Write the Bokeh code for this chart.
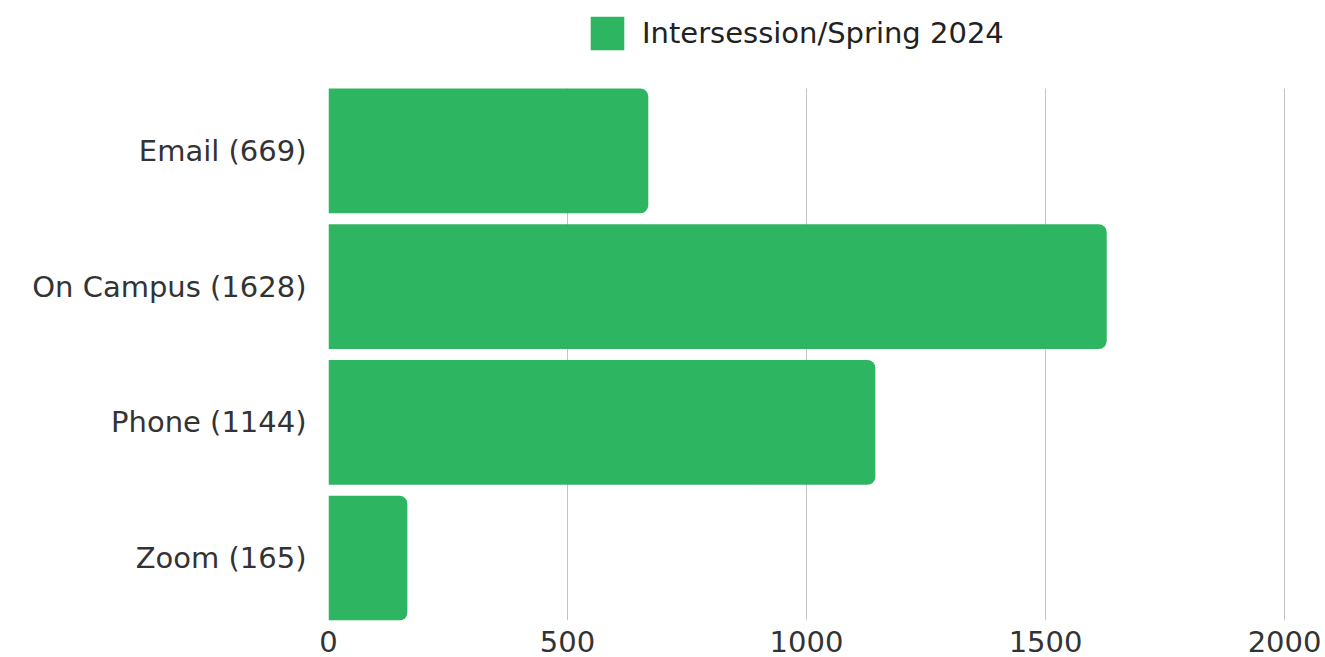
from bokeh.plotting import figure
from bokeh.models import Range1d, FixedTicker, Legend, LegendItem
from bokeh.embed import file_html
from bokeh.resources import INLINE

categories = ["Email", "On Campus", "Phone", "Zoom"]
values = [669, 1628, 1144, 165]
series_name = "Intersession/Spring 2024"
x_ticks = [0, 500, 1000, 1500, 2000]

GREEN = "#2eb561"
FONT = "DejaVu Sans"
FS = "29px"

idx = list(range(len(categories)))
labels = {i: f"{c} ({v})" for i, c, v in zip(idx, categories, values)}

# bar area spans -0.46 .. 3.46 over 532px; frame extended upward to hold the legend
bar_lo, bar_hi = -0.46, len(categories) - 0.54
units_per_px = (bar_hi - bar_lo) / 532.0
top_extra = 88 * units_per_px

p = figure(width=1325, height=657, output_backend="svg", toolbar_location=None,
           x_range=Range1d(0, 2002), y_range=Range1d(bar_hi, bar_lo - top_extra),
           min_border_left=328, min_border_right=40, min_border_top=0, min_border_bottom=37)

r = p.hbar(y=idx, left=0, right=values, height=0.92, fill_color=GREEN, line_color=None,
           border_radius=(0, 8, 8, 0))

p.outline_line_color = None
p.ygrid.grid_line_color = None
p.xgrid.grid_line_color = "#c4c4c4"
p.xgrid.grid_line_width = 1
p.xgrid.cross_bounds = (bar_lo, bar_hi)
p.xaxis.ticker = FixedTicker(ticks=x_ticks)
p.yaxis.ticker = FixedTicker(ticks=idx)
p.yaxis.major_label_overrides = labels

for ax in (p.xaxis[0], p.yaxis[0]):
    ax.axis_line_color = None
    ax.major_tick_line_color = None
    ax.minor_tick_line_color = None
    ax.major_tick_out = 0
    ax.major_tick_in = 0
    ax.minor_tick_out = 0
    ax.major_label_text_font = FONT
    ax.major_label_text_font_size = FS
    ax.major_label_text_color = "#333333"
p.yaxis.major_label_standoff = 22
p.xaxis.major_label_standoff = 10

legend = Legend(items=[LegendItem(label=series_name, renderers=[r])],
                location=(258, 566), orientation="horizontal",
                glyph_width=42, glyph_height=42, label_standoff=14,
                label_text_font=FONT, label_text_font_size=FS, label_text_color="#222222",
                border_line_color=None, background_fill_alpha=0, padding=0, margin=0)
p.add_layout(legend, "center")

open("out.html", "w").write(file_html(p, INLINE))
